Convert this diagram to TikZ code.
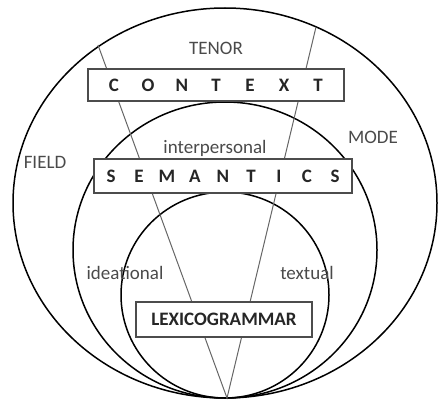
\documentclass[tikz,border=0pt]{standalone}
\usepackage{fontspec}
\setmainfont{Carlito}
\usepackage{xcolor}
\usepackage{tikz}
\usetikzlibrary{positioning}

\definecolor{labelgray}{HTML}{4A4A4A}
\newcommand{\spreadletters}[2]{\foreach \ch in {#2}{\makebox[#1]{\ch}}}

\begin{document}
\begin{tikzpicture}[
  x=0.5pt, y=-0.5pt,
  font=\fontsize{9.5}{11}\selectfont,
  ring/.style={draw=black, line width=0.75pt},
  vline/.style={draw=black!60, line width=0.5pt},
  stratum/.style={draw=black!70, fill=white, line width=0.6pt, inner sep=0pt, text=black!85,
    font=\fontsize{9.5}{11}\selectfont\bfseries},
  lbl/.style={text=labelgray, inner sep=1pt},
]
% the three strata, all touching at the bottom
\draw[ring] (225,203) ellipse [x radius=212, y radius=195];
\draw[ring] (225,250) ellipse [x radius=152, y radius=148];
\draw[ring] (225,295) ellipse [x radius=104, y radius=103];
% the V that splits the metafunctions
\coordinate (apex) at (227,398);
\coordinate (vleft) at (98,45);
\coordinate (vright) at (316,27);
\draw[vline] (vleft) -- (apex) -- (vright);
% boxes
\node[stratum, minimum width=128pt, minimum height=16pt] (context) at (216,85)
  {\spreadletters{17pt}{C,O,N,T,E,X,T}};
\node[stratum, minimum width=129pt, minimum height=17pt] (semantics) at (223,176)
  {\spreadletters{14pt}{S,E,M,A,N,T,I,C,S}};
\node[stratum, minimum width=88pt, minimum height=17.5pt] (lexgram) at (224,319.5)
  {LEXICOGRAMMAR};
% labels
\node[lbl] (tenor) at (216,48) {TENOR};
\node[lbl] (mode) at (373,137) {MODE};
\node[lbl] (field) at (45,162) {FIELD};
\node[lbl] (interp) at (215,148) {interpersonal};
\node[lbl] (ideat) at (125,273) {ideational};
\node[lbl] (textual) at (307,273) {textual};
\useasboundingbox (0,0) rectangle (438,401);
\end{tikzpicture}
\end{document}
